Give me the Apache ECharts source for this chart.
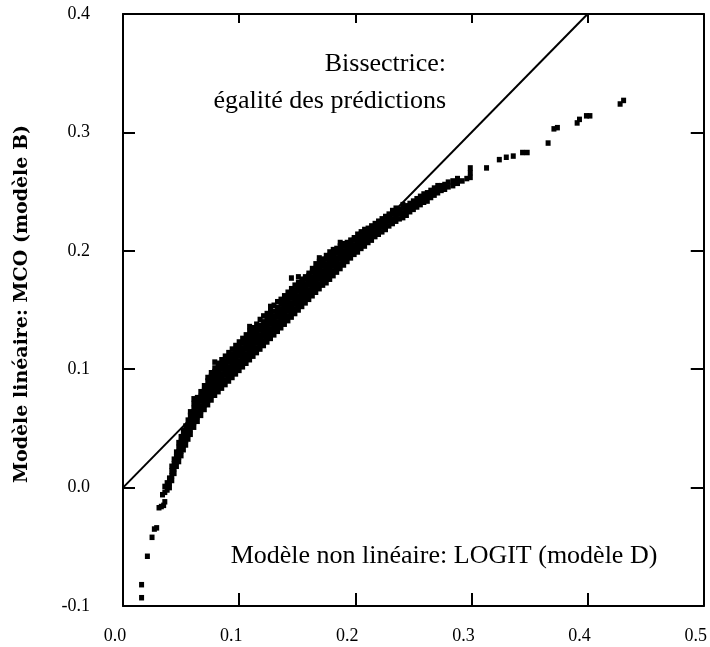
<!DOCTYPE html>
<html>
<head>
<meta charset="utf-8">
<script src="https://cdn.jsdelivr.net/npm/echarts@6/dist/echarts.min.js"></script>
<style>
html,body{margin:0;padding:0;background:#fff;}
#chart{width:710px;height:647px;}
</style>
</head>
<body>
<div id="chart"></div>
<script>
// Axis ticks
var xTicks = [0.0, 0.1, 0.2, 0.3, 0.4, 0.5];
var yTicks = [-0.1, 0.0, 0.1, 0.2, 0.3, 0.4];

// Bisector: equal predictions (y = x)
var bisector = [[0.0, 0.0], [0.4, 0.4]];

// Lower sparse tail (x = LOGIT, y = MCO)
var tailPoints = [
  [0.016,-0.093],[0.016,-0.082],[0.021,-0.058],[0.025,-0.042],[0.027,-0.035],[0.029,-0.034],
  [0.031,-0.017],[0.033,-0.016],[0.035,-0.015],[0.036,-0.012],[0.034,-0.006],[0.036,-0.004],
  [0.038,-0.002],[0.036,0.001],[0.038,0.004]
];

// Dense band: each column = [x, [y values]]
var bandColumns = [
  [0.040,[0.000,0.004,0.008]],
  [0.042,[0.006,0.010,0.014,0.018]],
  [0.044,[0.012,0.016,0.020,0.024]],
  [0.046,[0.018,0.022,0.026,0.030]],
  [0.048,[0.022,0.026,0.030,0.034,0.038]],
  [0.050,[0.027,0.031,0.035,0.039,0.043]],
  [0.052,[0.032,0.036,0.040,0.044,0.048]],
  [0.054,[0.036,0.040,0.044,0.048,0.052]],
  [0.056,[0.041,0.045,0.049,0.053,0.057]],
  [0.058,[0.045,0.049,0.053,0.057,0.061,0.064]],
  [0.061,[0.051,0.055,0.059,0.063,0.067,0.071,0.075]],
  [0.064,[0.056,0.060,0.064,0.068,0.072,0.076]],
  [0.067,[0.061,0.065,0.069,0.073,0.077,0.081]],
  [0.070,[0.066,0.070,0.074,0.078,0.082,0.086]],
  [0.073,[0.070,0.074,0.078,0.082,0.086,0.090,0.093]],
  [0.076,[0.074,0.078,0.082,0.086,0.090,0.094,0.097]],
  [0.079,[0.078,0.082,0.086,0.090,0.094,0.098,0.101,0.106]],
  [0.082,[0.081,0.085,0.089,0.093,0.097,0.101,0.105]],
  [0.085,[0.084,0.088,0.092,0.096,0.100,0.104,0.108]],
  [0.088,[0.087,0.091,0.095,0.099,0.103,0.107,0.111]],
  [0.091,[0.090,0.094,0.098,0.102,0.106,0.110,0.114]],
  [0.094,[0.093,0.097,0.101,0.105,0.109,0.113,0.117]],
  [0.097,[0.096,0.100,0.104,0.108,0.112,0.116,0.120]],
  [0.100,[0.099,0.103,0.107,0.111,0.115,0.119,0.123]],
  [0.103,[0.102,0.106,0.110,0.114,0.118,0.122,0.126]],
  [0.106,[0.105,0.109,0.113,0.117,0.121,0.125,0.129]],
  [0.109,[0.108,0.112,0.116,0.120,0.124,0.128,0.132,0.136]],
  [0.112,[0.111,0.115,0.119,0.123,0.127,0.131,0.135]],
  [0.115,[0.114,0.118,0.122,0.126,0.130,0.134,0.138]],
  [0.118,[0.117,0.121,0.125,0.129,0.133,0.137,0.142]],
  [0.121,[0.120,0.124,0.128,0.132,0.136,0.140,0.145]],
  [0.124,[0.123,0.127,0.131,0.135,0.139,0.143,0.147]],
  [0.127,[0.126,0.130,0.134,0.138,0.142,0.146,0.150,0.153]],
  [0.130,[0.129,0.133,0.137,0.141,0.145,0.149,0.154]],
  [0.133,[0.132,0.136,0.140,0.144,0.148,0.152,0.157]],
  [0.136,[0.135,0.139,0.143,0.147,0.151,0.155,0.159]],
  [0.139,[0.138,0.142,0.146,0.150,0.154,0.158,0.162]],
  [0.142,[0.141,0.145,0.149,0.153,0.157,0.161,0.165]],
  [0.145,[0.144,0.148,0.152,0.156,0.160,0.164,0.168,0.177]],
  [0.148,[0.147,0.151,0.155,0.159,0.163,0.167,0.171]],
  [0.151,[0.150,0.154,0.158,0.162,0.166,0.170,0.173,0.178]],
  [0.154,[0.153,0.157,0.161,0.165,0.169,0.173,0.176]],
  [0.157,[0.156,0.160,0.164,0.168,0.172,0.176,0.178]],
  [0.160,[0.159,0.163,0.167,0.171,0.175,0.179,0.181]],
  [0.163,[0.162,0.166,0.170,0.174,0.178,0.182,0.185]],
  [0.166,[0.165,0.169,0.173,0.177,0.181,0.185,0.189]],
  [0.169,[0.168,0.172,0.176,0.180,0.184,0.188,0.191,0.194]],
  [0.172,[0.171,0.175,0.179,0.183,0.187,0.191,0.193]],
  [0.175,[0.173,0.177,0.181,0.185,0.189,0.193,0.196]],
  [0.178,[0.176,0.180,0.184,0.188,0.192,0.196,0.199]],
  [0.181,[0.179,0.183,0.187,0.191,0.195,0.199,0.201]],
  [0.184,[0.182,0.186,0.190,0.194,0.198,0.202]],
  [0.187,[0.185,0.189,0.193,0.197,0.201,0.204,0.207]],
  [0.190,[0.188,0.192,0.196,0.200,0.204,0.206]],
  [0.193,[0.191,0.195,0.199,0.203,0.207]],
  [0.196,[0.194,0.198,0.202,0.206,0.209]],
  [0.199,[0.197,0.201,0.205,0.209,0.211]],
  [0.202,[0.199,0.203,0.207,0.211,0.214]],
  [0.205,[0.202,0.206,0.210,0.214,0.216]],
  [0.208,[0.204,0.208,0.212,0.216,0.218]],
  [0.211,[0.207,0.211,0.215,0.219]],
  [0.214,[0.209,0.213,0.217,0.221]],
  [0.217,[0.212,0.216,0.220,0.223]],
  [0.220,[0.214,0.218,0.222,0.225]],
  [0.223,[0.216,0.220,0.224,0.227]],
  [0.226,[0.218,0.222,0.226,0.229]],
  [0.229,[0.221,0.225,0.229,0.231]],
  [0.232,[0.223,0.227,0.231,0.234]],
  [0.235,[0.225,0.229,0.233,0.236]],
  [0.238,[0.227,0.231,0.235]],
  [0.241,[0.228,0.232,0.236,0.239]],
  [0.244,[0.230,0.234,0.238]],
  [0.247,[0.233,0.237,0.240]],
  [0.250,[0.235,0.239,0.242]],
  [0.253,[0.237,0.241,0.244]],
  [0.256,[0.239,0.243,0.246]],
  [0.259,[0.241,0.245,0.248]],
  [0.262,[0.242,0.246,0.249]],
  [0.265,[0.245,0.249,0.251]],
  [0.268,[0.247,0.251,0.253]],
  [0.271,[0.249,0.253,0.255]],
  [0.274,[0.251,0.255]],
  [0.277,[0.252,0.256]],
  [0.280,[0.254,0.258]],
  [0.284,[0.255,0.259]],
  [0.288,[0.257,0.261]],
  [0.292,[0.259]],
  [0.296,[0.261]],
  [0.299,[0.262,0.266,0.270]]
];

// Upper sparse points
var upperPoints = [
  [0.313,0.270],[0.324,0.277],[0.330,0.279],[0.336,0.280],[0.344,0.283],[0.348,0.283],
  [0.366,0.291],[0.371,0.303],[0.374,0.304],[0.391,0.308],[0.393,0.311],[0.399,0.314],
  [0.402,0.314],[0.428,0.324],[0.431,0.327]
];

// Texts
var yTitle = 'Modèle linéaire: MCO (modèle B)';
var bisectorLabel1 = 'Bissectrice:';
var bisectorLabel2 = 'égalité des prédictions';
var xTitle = 'Modèle non linéaire: LOGIT (modèle D)';

var points = tailPoints.slice();
bandColumns.forEach(function (c) { c[1].forEach(function (y) { points.push([c[0], y]); }); });
upperPoints.forEach(function (p) { points.push(p); });

var chart = echarts.init(document.getElementById('chart'), null, {renderer: 'canvas'});
var serif = "'Liberation Serif', 'Times New Roman', serif";
var fmt = function (v) { return (Math.abs(v) < 1e-9 ? 0 : v).toFixed(1); };
var axisLine = {show: true, onZero: false, lineStyle: {color: '#000', width: 2}};

chart.setOption({
  animation: false,
  backgroundColor: '#fff',
  grid: {left: 123, right: 6, top: 14, bottom: 41, containLabel: false},
  xAxis: [
    {type: 'value', position: 'bottom', min: xTicks[0], max: xTicks[xTicks.length - 1], interval: 0.1,
     axisLine: axisLine, axisTick: {show: true, inside: true, length: 13, lineStyle: {color: '#000', width: 2}},
     axisLabel: {formatter: fmt, fontFamily: serif, fontSize: 18, color: '#000', margin: 21, padding: [0, 16, 0, 0]},
     splitLine: {show: false}},
    {type: 'value', position: 'top', min: xTicks[0], max: xTicks[xTicks.length - 1], interval: 0.1,
     axisLine: axisLine, axisTick: {show: true, inside: true, length: 9, lineStyle: {color: '#000', width: 2}},
     axisLabel: {show: false}, splitLine: {show: false}}
  ],
  yAxis: [
    {type: 'value', position: 'left', min: yTicks[0], max: yTicks[yTicks.length - 1], interval: 0.1,
     axisLine: axisLine, axisTick: {show: true, inside: true, length: 12, lineStyle: {color: '#000', width: 2}},
     axisLabel: {formatter: fmt, fontFamily: serif, fontSize: 18, color: '#000', margin: 33, padding: [6, 0, 0, 0]},
     splitLine: {show: false}},
    {type: 'value', position: 'right', min: yTicks[0], max: yTicks[yTicks.length - 1], interval: 0.1,
     axisLine: axisLine, axisTick: {show: true, inside: true, length: 13, lineStyle: {color: '#000', width: 2}},
     axisLabel: {show: false}, splitLine: {show: false}}
  ],
  series: [
    {type: 'line', data: bisector, xAxisIndex: 0, yAxisIndex: 0, symbol: 'none', silent: true,
     lineStyle: {color: '#000', width: 2}},
    {type: 'scatter', data: points, xAxisIndex: 0, yAxisIndex: 0, symbol: 'rect', symbolSize: [5, 5.5],
     itemStyle: {color: '#000', opacity: 1}, silent: true}
  ],
  graphic: [
    {type: 'text', x: 22, y: 304, rotation: Math.PI / 2,
     style: {text: yTitle, font: "bold 19px 'DejaVu Serif', serif", fill: '#000', textAlign: 'center', textVerticalAlign: 'middle'}},
    {type: 'text', x: 446, y: 64,
     style: {text: bisectorLabel1, font: "26px " + serif, fill: '#000', textAlign: 'right', textVerticalAlign: 'middle'}},
    {type: 'text', x: 446, y: 101,
     style: {text: bisectorLabel2, font: "26px " + serif, fill: '#000', textAlign: 'right', textVerticalAlign: 'middle'}},
    {type: 'text', x: 444, y: 556,
     style: {text: xTitle, font: "26px " + serif, fill: '#000', textAlign: 'center', textVerticalAlign: 'middle'}}
  ]
});
</script>
</body>
</html>
